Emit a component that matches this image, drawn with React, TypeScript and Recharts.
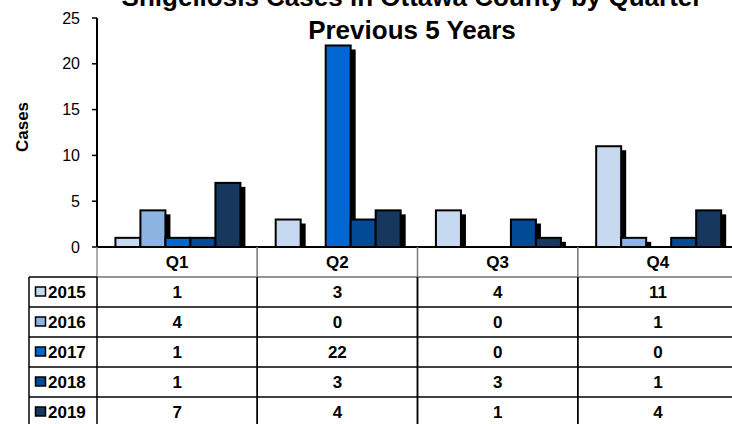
import { BarChart, Bar, XAxis, YAxis } from 'recharts';

const quarters = ['Q1', 'Q2', 'Q3', 'Q4'];
const years = ['2015', '2016', '2017', '2018', '2019'];
const cases2015 = [1, 3, 4, 11];
const cases2016 = [4, 0, 0, 1];
const cases2017 = [1, 22, 0, 0];
const cases2018 = [1, 3, 3, 1];
const cases2019 = [7, 4, 1, 4];
const yTicks = [0, 5, 10, 15, 20, 25];

const seriesValues = [cases2015, cases2016, cases2017, cases2018, cases2019];
const COLORS = ['#c6d9f1', '#8db3e2', '#0066d1', '#004a98', '#17375e'];

const FONT = '"Liberation Sans", Arial, sans-serif';
const CHART_W = 740;
const CHART_H = 430;
const PLOT_LEFT = 97;
const PLOT_RIGHT_MARGIN = 2;
const COL_W = (CHART_W - PLOT_LEFT - PLOT_RIGHT_MARGIN) / quarters.length;
const HEAD_H = 30;
const ROW_H = 30;
const LEGEND_LEFT = 29;

const data = quarters.map((q, i) => {
  const row: Record<string, any> = { quarter: q };
  years.forEach((yr, k) => {
    row[yr] = seriesValues[k][i];
  });
  return row;
});

// bar with the offset black drop shadow, like the old Excel style
const ShadowBar = (props: any) => {
  const { x, y, width, height, fill } = props;
  if (!height || height <= 0) return null;
  return (
    <g>
      <rect x={x + 5} y={y + 4} width={width} height={Math.max(height - 4, 0)} fill="#000" />
      <rect x={x} y={y} width={width} height={height} fill={fill} stroke="#000" strokeWidth={2} />
    </g>
  );
};

// each x tick draws its own column of the data table
const TableColumn = (props: any) => {
  const { x, y, payload, index } = props;
  const qi = quarters.indexOf(payload.value);
  const left = x - COL_W / 2;
  const right = x + COL_W / 2;
  const headBottom = y + HEAD_H;
  const bottom = headBottom + ROW_H * years.length;
  const textStyle = { fontFamily: FONT, fontWeight: 'bold' as const, fontSize: 17, fill: '#000' };

  return (
    <g>
      <line x1={left} x2={left} y1={y} y2={headBottom} stroke="#808080" strokeWidth={1.3} />
      <line x1={right} x2={right} y1={y} y2={headBottom} stroke="#808080" strokeWidth={1.3} />
      <line x1={left} x2={right} y1={headBottom} y2={headBottom} stroke="#707070" strokeWidth={1.3} />
      <line x1={left} x2={left} y1={headBottom} y2={bottom} stroke="#000" strokeWidth={1.5} />
      <line x1={right} x2={right} y1={headBottom} y2={bottom} stroke="#000" strokeWidth={1.5} />
      <text x={x} y={y + HEAD_H / 2} dy="0.36em" textAnchor="middle" {...textStyle}>
        {payload.value}
      </text>
      {years.map((yr, k) => {
        const rowTop = headBottom + k * ROW_H;
        return (
          <g key={yr}>
            {k > 0 && (
              <line x1={left} x2={right} y1={rowTop} y2={rowTop} stroke="#000" strokeWidth={1.3} />
            )}
            <text x={x} y={rowTop + ROW_H / 2} dy="0.36em" textAnchor="middle" {...textStyle}>
              {seriesValues[k][qi]}
            </text>
          </g>
        );
      })}
      {index === 0 && (
        <g>
          <line x1={LEGEND_LEFT} x2={LEGEND_LEFT} y1={headBottom} y2={bottom} stroke="#000" strokeWidth={1.5} />
          <line x1={LEGEND_LEFT} x2={left} y1={headBottom} y2={headBottom} stroke="#000" strokeWidth={1.3} />
          {years.map((yr, k) => {
            const rowTop = headBottom + k * ROW_H;
            const cy = rowTop + ROW_H / 2;
            return (
              <g key={yr}>
                {k > 0 && (
                  <line x1={LEGEND_LEFT} x2={left} y1={rowTop} y2={rowTop} stroke="#000" strokeWidth={1.3} />
                )}
                <rect x={35.5} y={cy - 5} width={10} height={9} fill={COLORS[k]} stroke="#000" strokeWidth={1.5} />
                <text x={48} y={cy} dy="0.36em" textAnchor="start" {...textStyle}>
                  {yr}
                </text>
              </g>
            );
          })}
        </g>
      )}
    </g>
  );
};

const CasesLabel = () => (
  <text
    x={22}
    y={127}
    transform="rotate(-90 22 127)"
    dy="0.36em"
    textAnchor="middle"
    fontFamily={FONT}
    fontWeight="bold"
    fontSize={17}
    fill="#000"
  >
    Cases
  </text>
);

const App = () => {
  return (
    <div
      style={{
        position: 'absolute',
        left: 0,
        top: 0,
        width: 732,
        height: 424,
        overflow: 'hidden',
        background: '#fff',
      }}
    >
      <BarChart
        width={CHART_W}
        height={CHART_H}
        data={data}
        margin={{ top: 18, right: PLOT_RIGHT_MARGIN, bottom: 0, left: 0 }}
        barGap={0}
        barCategoryGap="11.5%"
        style={{ fontFamily: FONT }}
      >
        <XAxis
          dataKey="quarter"
          height={CHART_H - 247}
          interval={0}
          tickSize={0}
          tickMargin={0}
          tickLine={false}
          axisLine={{ stroke: '#000', strokeWidth: 2 }}
          tick={<TableColumn />}
        />
        <YAxis
          width={PLOT_LEFT}
          domain={[0, 25]}
          ticks={yTicks}
          interval={0}
          tickSize={5}
          tickMargin={12}
          axisLine={{ stroke: '#000', strokeWidth: 2 }}
          tickLine={{ stroke: '#000', strokeWidth: 1.5 }}
          tick={{ fill: '#000', fontSize: 16, fontFamily: FONT }}
          label={<CasesLabel />}
        />
        {years.map((yr, k) => (
          <Bar
            key={yr}
            dataKey={yr}
            fill={COLORS[k]}
            shape={<ShadowBar />}
            isAnimationActive={false}
          />
        ))}
      </BarChart>
      <svg
        width={732}
        height={50}
        style={{ position: 'absolute', left: 0, top: 0, pointerEvents: 'none' }}
      >
        <text x={412} y={6} textAnchor="middle" fontFamily={FONT} fontWeight="bold" fontSize={26} fill="#000">
          Shigellosis Cases in Ottawa County by Quarter
        </text>
        <text x={412} y={39} textAnchor="middle" fontFamily={FONT} fontWeight="bold" fontSize={26} fill="#000">
          Previous 5 Years
        </text>
      </svg>
    </div>
  );
};

export default App;
